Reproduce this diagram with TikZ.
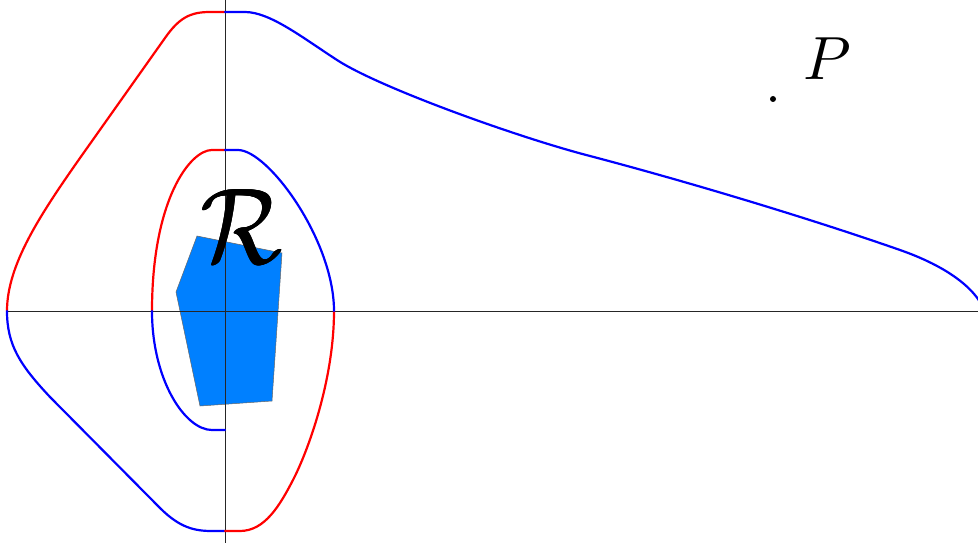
\documentclass[tikz,border=0pt]{standalone}
\definecolor{regfill}{RGB}{0,128,255}
\newcommand{\heavyR}{\ooalign{$\mathcal{R}$\cr\kern0.07pt$\mathcal{R}$\cr\raise0.06pt\hbox{$\mathcal{R}$}\cr\kern0.07pt\raise0.06pt\hbox{$\mathcal{R}$}\cr}}
\begin{document}
\begin{tikzpicture}[x=1pt,y=-1pt,
  curve/.style={line width=2.2pt, line join=round, line cap=round},
  redc/.style={curve, red},
  bluec/.style={curve, blue},
  axis/.style={line width=0.8pt, black!85},
  region/.style={fill=regfill, draw=black!60, line width=0.5pt}]
\useasboundingbox (0,0) rectangle (978,543);
\clip (0,0) rectangle (978,543);
% region
\filldraw[region] (197,236) -- (282,253) -- (272,401) -- (200,406) -- (176,292) -- cycle;
% axes
\draw[axis] (7,311) -- (978,311);
\draw[axis] (225,0) -- (225,543);
% outer spiral
\draw[redc] (225,12) -- (210,12) .. controls (190,12) and (179,18) .. (165,38) -- (80,158) .. controls (40,215) and (7,265) .. (7,311);
\draw[bluec] (7,311) .. controls (7,345) and (20,365) .. (50,397) -- (160,508) .. controls (180,528) and (195,531) .. (212,531) -- (225,531);
\draw[redc] (225,531) -- (240,531) .. controls (265,531) and (280,505) .. (293,480) .. controls (308,451) and (334,380) .. (334,311);
\draw[bluec] (225,12) -- (245,12) .. controls (270,12) and (303,38) .. (337,60) .. controls (380,88) and (520,138) .. (590,156) .. controls (700,185) and (820,222) .. (900,250) .. controls (940,264) and (975,285) .. (985,312);
% inner spiral
\draw[redc] (225,150) -- (212,150) .. controls (190,150) and (152,200) .. (152,311);
\draw[bluec] (152,311) .. controls (152,380) and (185,430) .. (212,430) -- (225,430);
\draw[bluec] (225,150) -- (238,150) .. controls (268,150) and (334,240) .. (334,311);
% labels
\node[inner sep=0, xscale=9.6, yscale=10.8] (R) at (242,227) {\heavyR};
\node[inner sep=0, scale=6.1] (P) at (827,59) {$P$};
\coordinate (Pdot) at (773,99);
\fill (Pdot) circle[radius=3];
\end{tikzpicture}
\end{document}
